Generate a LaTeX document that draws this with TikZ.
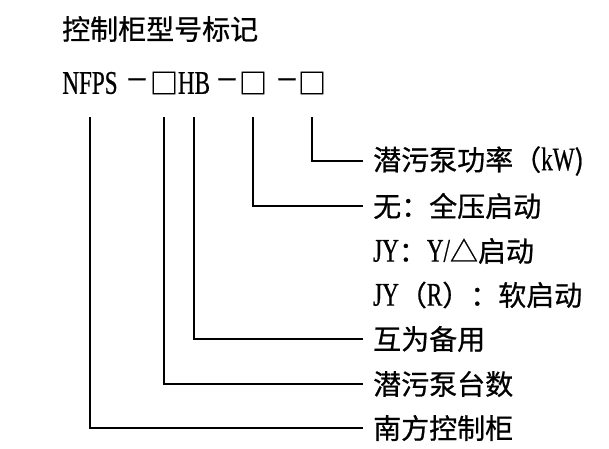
\documentclass[tikz,border=0pt]{standalone}
\usepackage{fontspec}
\setmainfont{Noto Sans CJK SC}[FakeBold=0.7]
\newfontfamily\latfont[FakeStretch=0.7,FakeBold=0.6]{Liberation Serif}
\newcommand{\lat}[1]{{\fontsize{33}{35}\latfont #1}}
\newcommand{\narrow}[2]{\makebox[#1]{#2}}
\tikzset{
  part/.style={inner sep=0pt},
  lbl/.style={anchor=west,inner sep=0pt},
  wire/.style={line width=1.3pt,shorten >=10pt}
}

\begin{document}
\begin{tikzpicture}[x=1pt,y=-1pt]
  \useasboundingbox (0,0) rectangle (609,448);
  \fontsize{28}{30}\selectfont

  \node[lbl] (title) at (62,29) {控制柜型号标记};

  % model code
  \node[part] (nfps) at (90,83) {\lat{NFPS}};
  \node[part] (dasha) at (137,84) {\narrow{15pt}{\scalebox{0.85}[1]{－}}};
  \node[part] (boxa) at (164,83) {\narrow{20pt}{□}};
  \node[part] (hb) at (194,83) {\lat{HB}};
  \node[part] (dashb) at (227,84) {\narrow{15pt}{\scalebox{0.85}[1]{－}}};
  \node[part] (boxb) at (253,83) {\narrow{20pt}{□}};
  \node[part] (dashc) at (287,84) {\narrow{15pt}{\scalebox{0.85}[1]{－}}};
  \node[part] (boxc) at (312,83) {\narrow{20pt}{□}};
  \coordinate (top) at (0,117);

  % meanings
  \node[lbl] (power) at (373,161) {潜污泵功率（\lat{kW})};
  \node[lbl] (start) at (373,206) {无：全压启动};
  \node[lbl] (stard) at (373,251) {\lat{JY}：\lat{Y/}△启动};
  \node[lbl] (soft) at (373,295) {\lat{JY}（\lat{R}）：软启动};
  \node[lbl] (spare) at (373,339) {互为备用};
  \node[lbl] (count) at (373,384) {潜污泵台数};
  \node[lbl] (maker) at (373,428) {南方控制柜};

  \draw[wire] (boxc |- top) |- (power.west);
  \draw[wire] (boxb |- top) |- (start.west);
  \draw[wire] (hb |- top) |- (spare.west);
  \draw[wire] (boxa |- top) |- (count.west);
  \draw[wire] (nfps |- top) |- (maker.west);
\end{tikzpicture}
\end{document}
